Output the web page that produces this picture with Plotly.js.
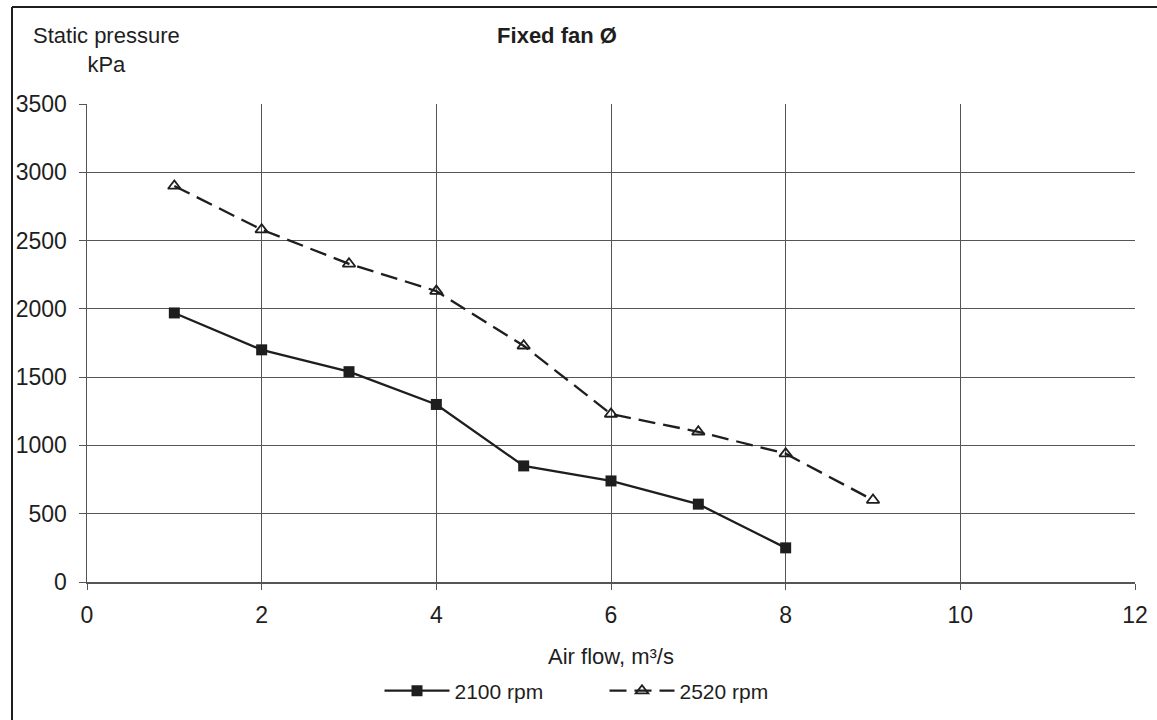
<!DOCTYPE html>
<html>
<head>
<meta charset="utf-8">
<script src="https://cdn.plot.ly/plotly-3.0.1.min.js"></script>
<style>
  html, body { margin: 0; padding: 0; background: #fff; }
  #chart { width: 1157px; height: 720px; }
</style>
</head>
<body>
<div id="chart"></div>
<script>
// Fan performance curves: static pressure vs air flow at two speeds
const airFlow = [1, 2, 3, 4, 5, 6, 7, 8, 9];
const pressure2100 = [1970, 1700, 1540, 1300, 850, 740, 570, 250];
const pressure2520 = [2900, 2580, 2330, 2130, 1730, 1230, 1100, 940, 600];
const seriesNames = ['2100 rpm', '2520 rpm'];
const xTicks = [0, 2, 4, 6, 8, 10, 12];
const yTicks = [0, 500, 1000, 1500, 2000, 2500, 3000, 3500];

const ink = '#1e1e1e';
const gridColor = '#555555';
const fontFamily = 'Liberation Sans, Arial, sans-serif';

const traces = [
  {
    x: airFlow.slice(0, pressure2100.length),
    y: pressure2100,
    name: seriesNames[0],
    mode: 'lines+markers',
    line: { color: ink, width: 2.3 },
    marker: { symbol: 'square', size: 11, color: ink }
  },
  {
    x: airFlow.slice(0, pressure2520.length),
    y: pressure2520,
    name: seriesNames[1],
    mode: 'lines+markers',
    line: { color: ink, width: 2.3, dash: '17px,8px' },
    marker: { symbol: 'triangle-up-open', size: 11, color: ink, line: { width: 1.8, color: ink } }
  }
];

const W = 1157, H = 720;
const M = { l: 87, r: 22, t: 104, b: 138, autoexpand: false };
const pw = W - M.l - M.r, ph = H - M.t - M.b;
// pixel -> paper helpers for annotations, legend and the outer frame
const px = v => (v - M.l) / pw;
const py = v => (H - M.b - v) / ph;

const layout = {
  width: W,
  height: H,
  margin: M,
  paper_bgcolor: '#ffffff',
  plot_bgcolor: '#ffffff',
  font: { family: fontFamily, size: 23, color: ink },
  showlegend: true,
  title: {
    text: '<b>Fixed fan Ø</b>',
    font: { family: fontFamily, size: 22, color: ink },
    xref: 'paper', x: px(557), xanchor: 'center',
    yref: 'container', y: 1 - 35 / H, yanchor: 'middle'
  },
  xaxis: {
    range: [0, 12],
    automargin: false,
    tickvals: xTicks,
    ticktext: xTicks.map(String),
    showgrid: true, gridcolor: gridColor, gridwidth: 1,
    showline: true, linecolor: gridColor, linewidth: 1.5,
    zeroline: false,
    ticks: 'outside', ticklen: 6, tickcolor: gridColor, tickwidth: 1,
    ticklabelstandoff: 6,
    tickfont: { family: fontFamily, size: 23, color: ink },
    title: { text: 'Air flow, m³/s', standoff: 21, font: { family: fontFamily, size: 22, color: ink } }
  },
  yaxis: {
    range: [0, 3500],
    automargin: false,
    tickvals: yTicks,
    ticktext: yTicks.map(String),
    showgrid: true, gridcolor: gridColor, gridwidth: 1,
    showline: true, linecolor: gridColor, linewidth: 1.5,
    zeroline: false,
    ticks: 'outside', ticklen: 7, tickcolor: gridColor, tickwidth: 1,
    ticklabelstandoff: 7,
    tickfont: { family: fontFamily, size: 23, color: ink }
  },
  legend: {
    orientation: 'h',
    xref: 'paper', x: px(604.5), xanchor: 'center',
    yref: 'paper', y: py(691), yanchor: 'middle',
    font: { family: fontFamily, size: 21, color: ink },
    bgcolor: 'rgba(0,0,0,0)',
    itemwidth: 65,
    entrywidth: 145, entrywidthmode: 'pixels'
  },
  annotations: [
    {
      text: 'Static pressure<br>kPa',
      xref: 'paper', yref: 'paper',
      x: px(106), y: py(49.5),
      xanchor: 'center', yanchor: 'middle',
      align: 'center', showarrow: false,
      font: { family: fontFamily, size: 22, color: ink }
    }
  ],
  shapes: [
    { type: 'line', xref: 'paper', yref: 'paper', x0: px(12), x1: px(12), y0: py(7), y1: py(H + 2), line: { color: ink, width: 2 } },
    { type: 'line', xref: 'paper', yref: 'paper', x0: px(12), x1: px(W + 2), y0: py(7), y1: py(7), line: { color: ink, width: 2 } }
  ]
};

Plotly.newPlot('chart', traces, layout, { displayModeBar: false, staticPlot: true });
</script>
</body>
</html>
